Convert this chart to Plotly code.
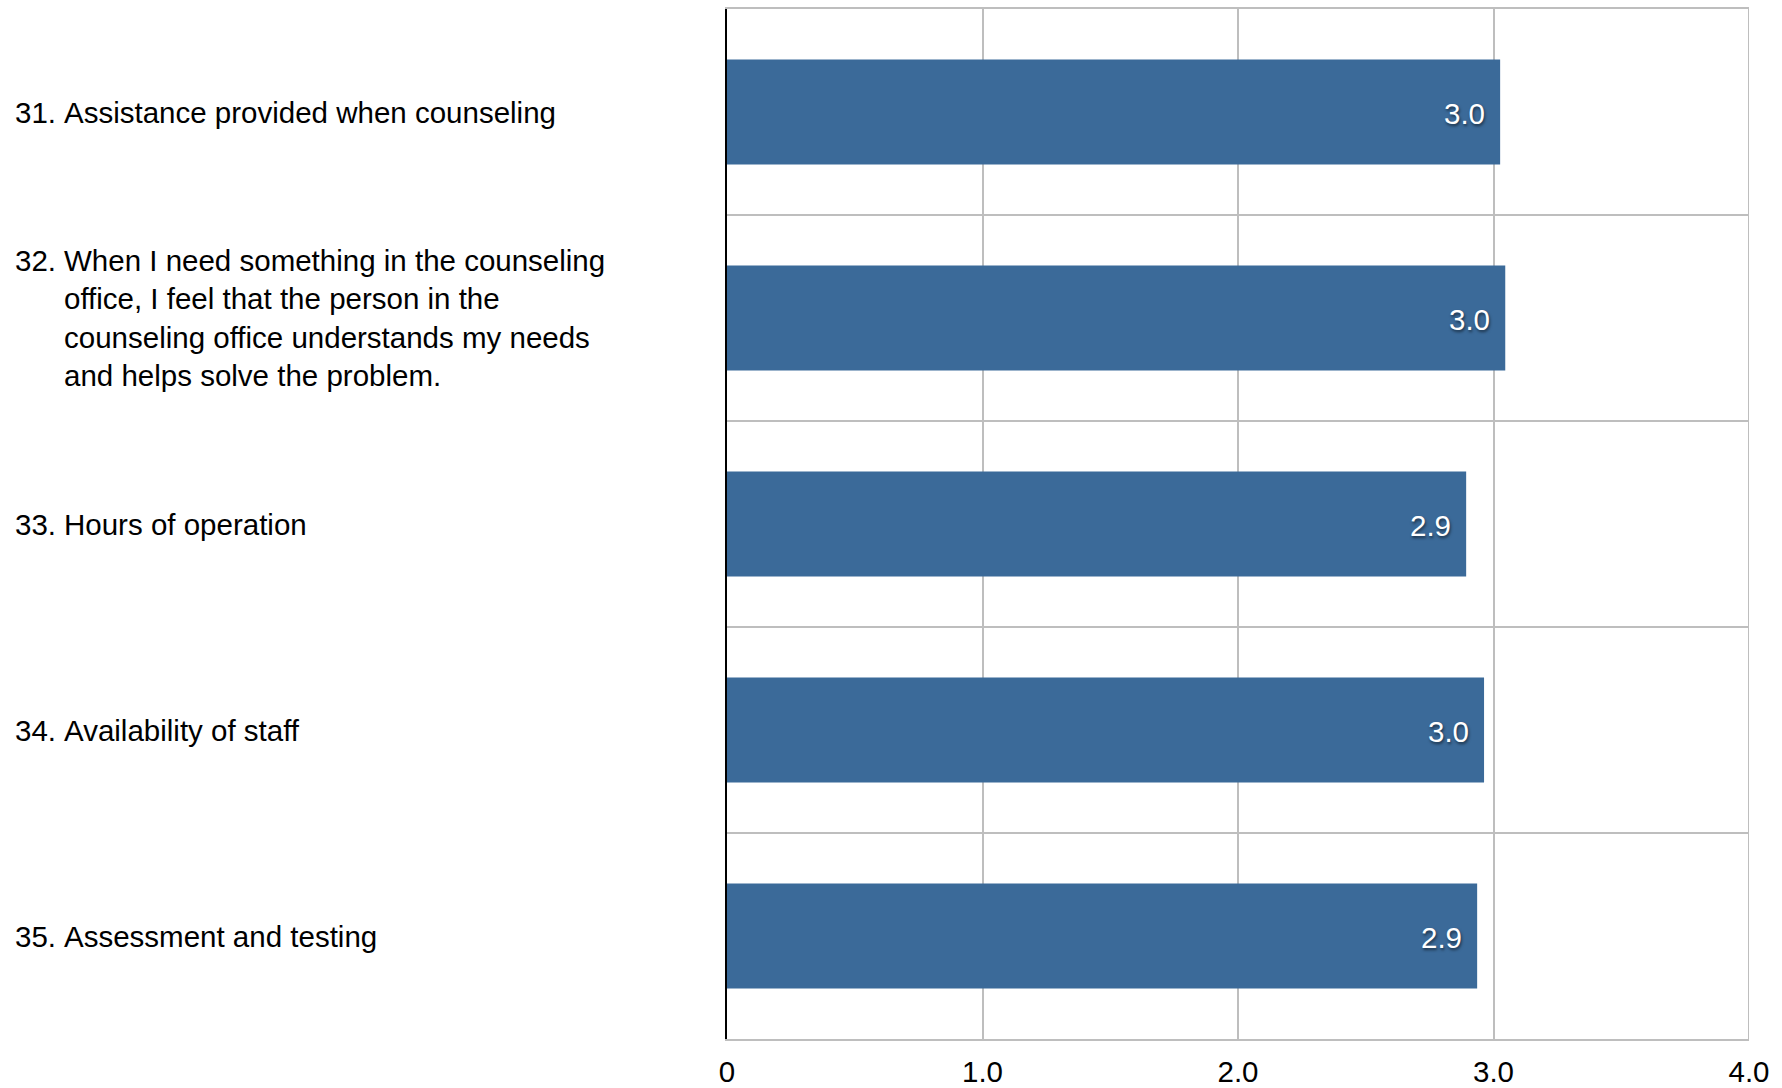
import plotly.graph_objects as go

# ---- data ----
item_numbers = ["31.", "32.", "33.", "34.", "35."]
item_texts = [
    "Assistance provided when counseling",
    "When I need something in the counseling<br>office, I feel that the person in the<br>counseling office understands my needs<br>and helps solve the problem.",
    "Hours of operation",
    "Availability of staff",
    "Assessment and testing",
]
categories = ["Q31", "Q32", "Q33", "Q34", "Q35"]
scores = [3.026, 3.046, 2.893, 2.963, 2.936]
x_ticks = [0, 1, 2, 3, 4]
x_tick_labels = ["0", "1.0", "2.0", "3.0", "4.0"]

# ---- layout constants (body margin removed via post_script) ----
W, H = 1782, 1088
ML = 727
MT = 9
PR = 1749   # plot right edge
PB = 1039   # plot bottom edge
MR = W - PR
MB = H - PB
PW = PR - ML
FONT = "Liberation Sans, Arial, Helvetica, sans-serif"
BAR_COLOR = "#3B6A99"
GRID = "#BEBEBE"
FS = 29.5

fig = go.Figure()
fig.add_trace(go.Bar(
    x=scores, y=categories, orientation="h",
    width=0.51, marker=dict(color=BAR_COLOR, line=dict(width=0)),
    hoverinfo="skip",
))

annotations = []
# value labels inside bars
for c, v in zip(categories, scores):
    annotations.append(dict(
        x=v, y=c, xref="x", yref="y", text=f"{v:.1f}", showarrow=False,
        xanchor="right", yanchor="middle", xshift=-13, yshift=-1,
        font=dict(family=FONT, size=29.5, color="white",
                  shadow="1px 2px 3px rgba(0,0,0,0.55)"),
    ))
# category labels (number + hanging-indent text)
num_px, text_px = 13, 62
for c, n, t in zip(categories, item_numbers, item_texts):
    nlines = t.count("<br>") + 1
    annotations.append(dict(
        x=(num_px - ML) / PW, y=c, xref="paper", yref="y", text=n,
        showarrow=False, xanchor="left", yanchor="middle", align="left",
        font=dict(family=FONT, size=FS, color="black"),
        yshift=(nlines - 1) * FS * 1.3 / 2,
    ))
    annotations.append(dict(
        x=(text_px - ML) / PW, y=c, xref="paper", yref="y", text=t,
        showarrow=False, xanchor="left", yanchor="middle", align="left",
        font=dict(family=FONT, size=FS, color="black"),
    ))

# right-hand frame line at the last tick (gridline at range end is clipped by plotly)
shapes = [dict(type="line", xref="x", yref="paper", x0=x_ticks[-1], x1=x_ticks[-1],
               y0=0, y1=1, line=dict(color=GRID, width=2), layer="below")]

fig.update_layout(
    width=W, height=H,
    margin=dict(l=ML, r=MR, t=MT, b=MB, pad=0, autoexpand=False),
    paper_bgcolor="white", plot_bgcolor="white",
    showlegend=False, bargap=0.49,
    annotations=annotations, shapes=shapes,
    xaxis=dict(
        range=[0, 4], tickvals=x_ticks, ticktext=x_tick_labels,
        showgrid=True, gridcolor=GRID, gridwidth=2,
        showline=True, linecolor=GRID, linewidth=2, mirror=True,
        zeroline=False, automargin=False, ticklabelstandoff=6,
        ticks="", tickfont=dict(family=FONT, size=FS, color="black"),
        fixedrange=True,
    ),
    yaxis=dict(
        autorange="reversed", tickson="boundaries",
        showgrid=True, gridcolor=GRID, gridwidth=2,
        showticklabels=False, ticks="", zeroline=False, automargin=False,
        showline=True, linecolor="black", linewidth=2, mirror=False,
        fixedrange=True,
    ),
)

fig.write_html(
    "out.html",
    config={"displayModeBar": False},
    post_script="document.body.style.margin='0';document.body.style.overflow='hidden';",
)
